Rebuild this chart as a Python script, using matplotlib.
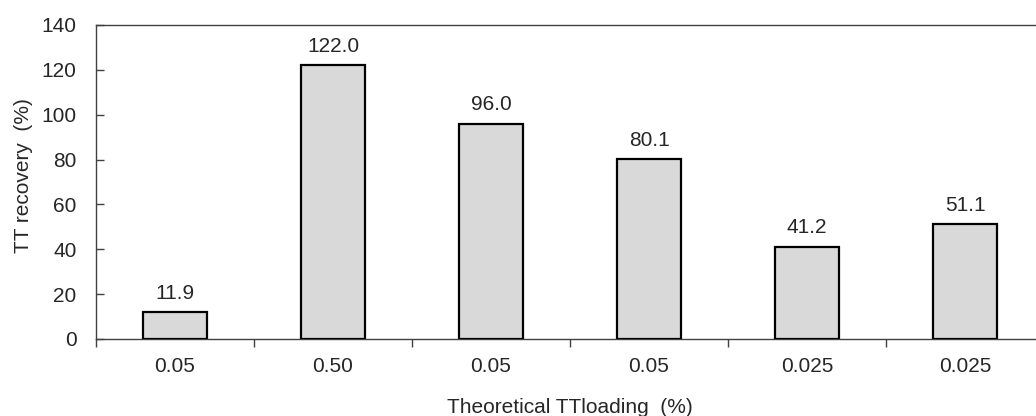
import matplotlib
matplotlib.use("Agg")
import matplotlib.pyplot as plt
import numpy as np

# Recovery of TT for each theoretical loading
loading_labels = ["0.05", "0.50", "0.05", "0.05", "0.025", "0.025"]
recovery = [11.9, 122.0, 96.0, 80.1, 41.2, 51.1]
y_ticks = [0, 20, 40, 60, 80, 100, 120, 140]

plt.rcParams["font.family"] = ["Liberation Sans", "DejaVu Sans"]

fig = plt.figure(figsize=(10.36, 4.16), dpi=100)
ax = fig.add_axes([96 / 1036, 77 / 416, 948 / 1036, 314 / 416])

axis_color = "#404040"
text_color = "#262626"
fs = 15

x = np.arange(len(recovery))
ax.bar(x, recovery, width=0.405, color="#d9d9d9", edgecolor="black",
       linewidth=1.6, zorder=3)

for xi, v in zip(x, recovery):
    ax.annotate(f"{v:.1f}", (xi, v), xytext=(0, 7), textcoords="offset points",
                ha="center", va="bottom", fontsize=fs, color=text_color)

ax.set_xlim(-0.5, len(recovery) - 0.5)
ax.set_ylim(0, 140)

ax.set_xticks(x)
ax.set_xticklabels(loading_labels)
ax.set_xticks(np.arange(len(recovery) + 1) - 0.5, minor=True)
ax.tick_params(axis="x", which="major", length=0, pad=13, labelsize=fs,
               labelcolor=text_color)
ax.tick_params(axis="x", which="minor", length=6, width=1, direction="out",
               color=axis_color)

ax.set_yticks(y_ticks)
ax.tick_params(axis="y", which="major", length=6, width=1, direction="in",
               pad=14, labelsize=fs, labelcolor=text_color, color=axis_color)

for side in ("left", "bottom", "top"):
    ax.spines[side].set_color(axis_color)
    ax.spines[side].set_linewidth(1)
ax.spines["right"].set_visible(False)

ax.set_ylabel("TT recovery  (%)", fontsize=fs, color=text_color)
ax.yaxis.set_label_coords(-0.066, 0.522)
ax.set_xlabel("Theoretical TTloading  (%)", fontsize=fs, color=text_color,
              labelpad=16)

fig.savefig("out.png", dpi=100)
